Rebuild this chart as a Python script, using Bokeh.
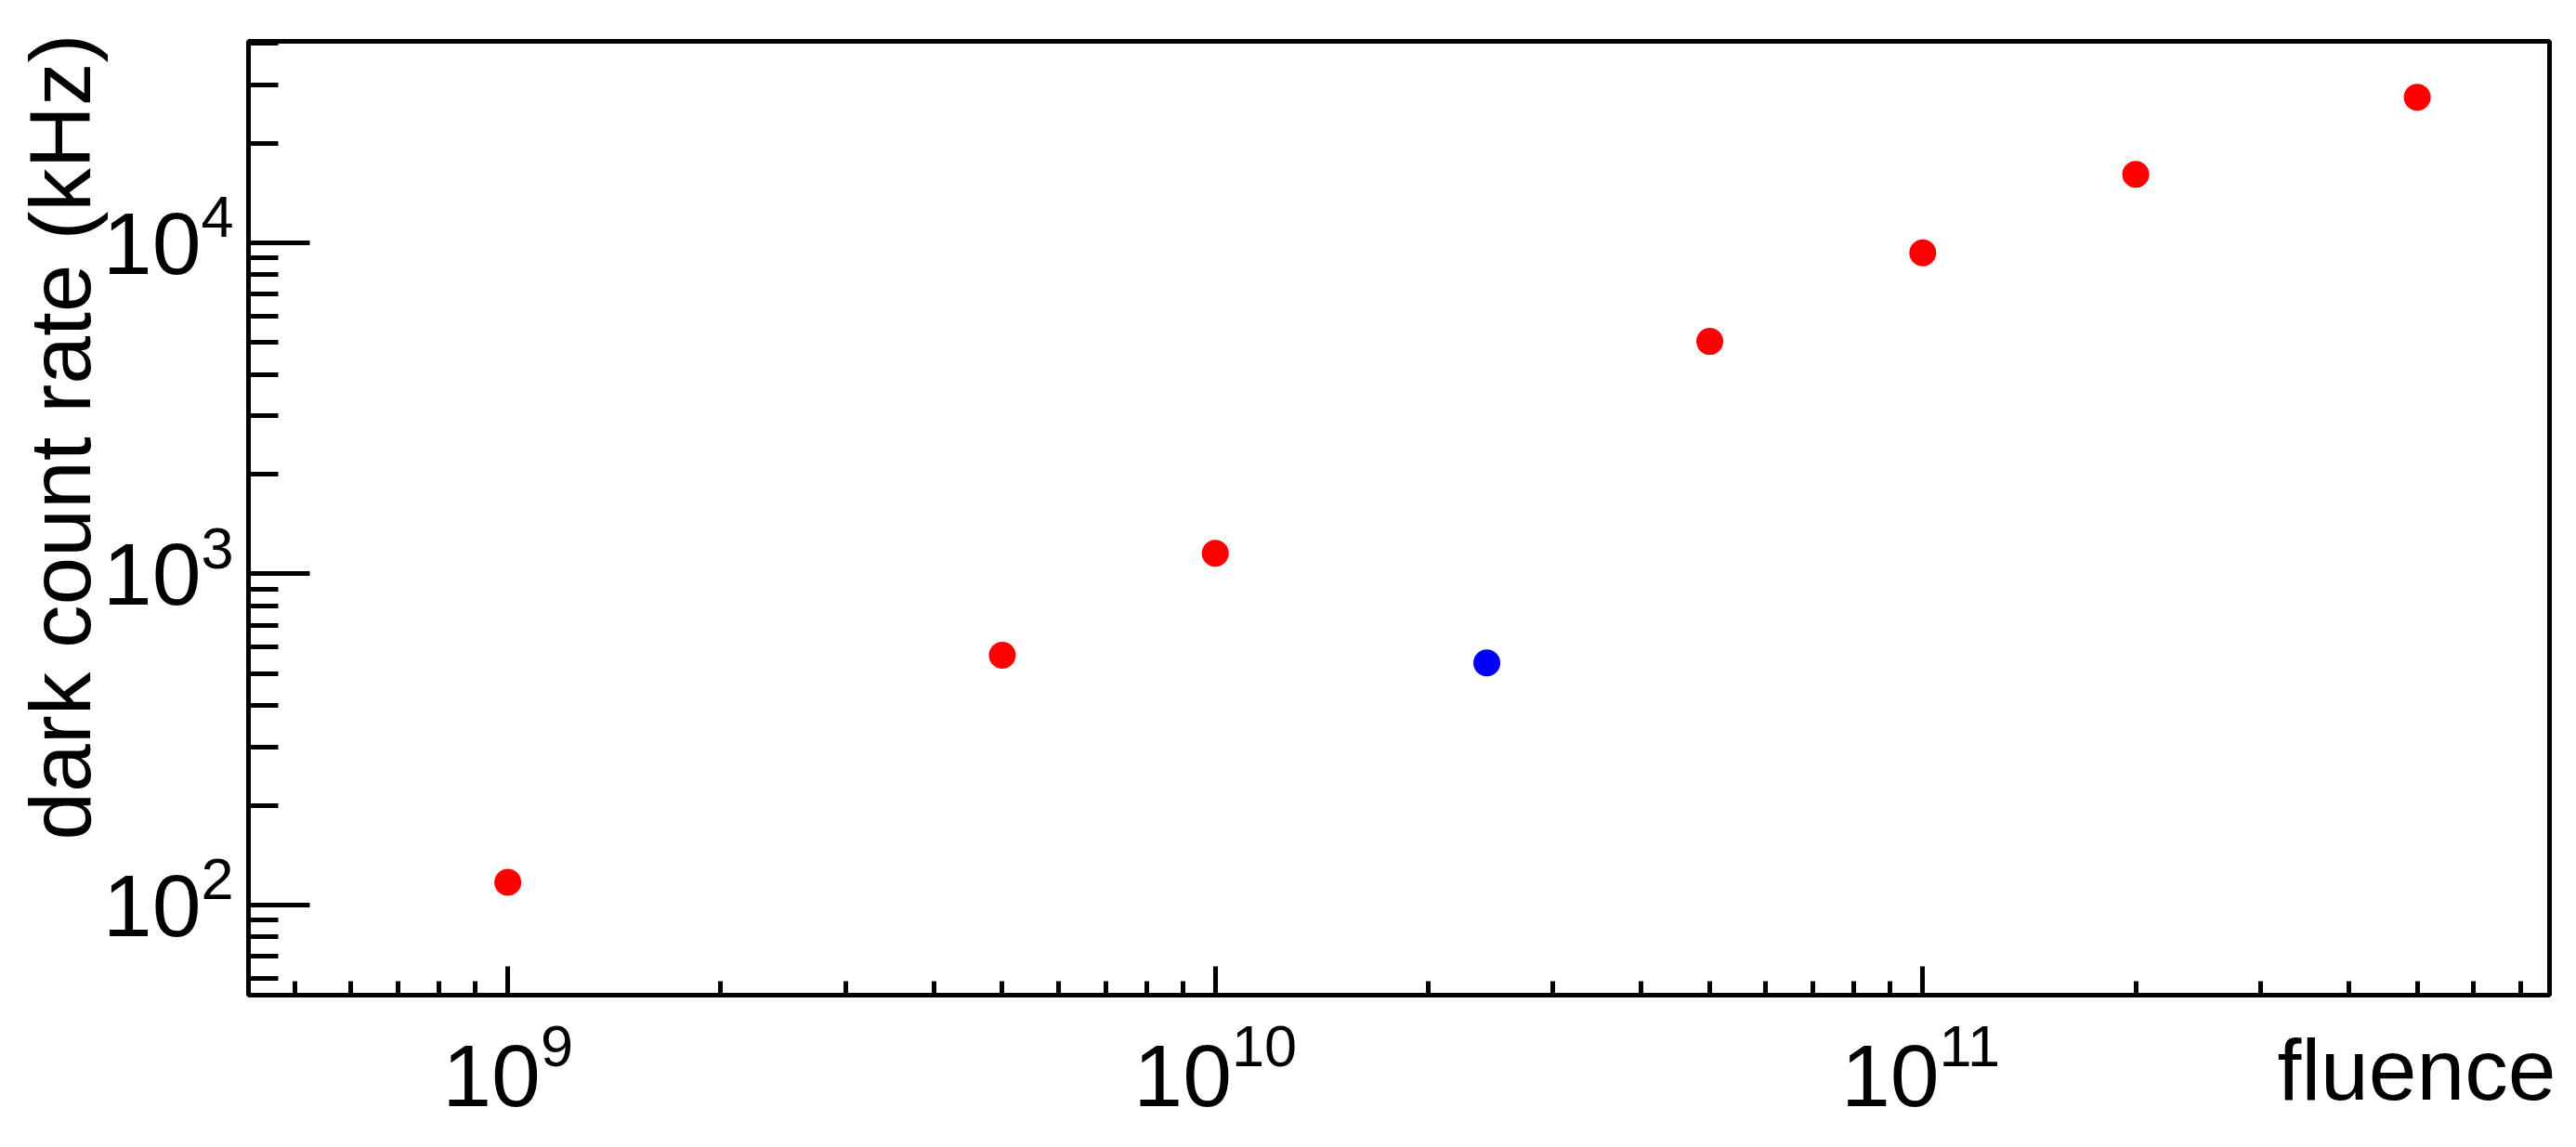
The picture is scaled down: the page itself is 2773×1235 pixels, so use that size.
import math
from bokeh.plotting import figure
from bokeh.models import Range1d, FixedTicker, CustomJSTickFormatter
from bokeh.core.properties import value
from bokeh.embed import file_html
from bokeh.resources import INLINE

# ---- data ----
fluence_red = [1e9, 5e9, 1e10, 5e10, 1e11, 2e11, 5e11]
rate_red = [117, 568, 1153, 5036, 9331, 16106, 27510]
fluence_blue = [2.42e10]
rate_blue = [538]

x_major_ticks = [1e9, 1e10, 1e11]
x_exponents = ["9", "10", "11"]
y_major_ticks = [1e2, 1e3, 1e4]
y_exponents = ["2", "3", "4"]

x_title = "fluence"
y_title = "dark count rate (kHz)"

x_min, x_max = 4.30e8, 7.69e11
y_min, y_max = 53.4, 40600

FONT = value("Liberation Sans")
MAIN_SIZE = 95
EXP_SIZE = 63
TITLE_SIZE = 93
W_DIGIT_MAIN = 0.556 * MAIN_SIZE
W_DIGIT_EXP = 0.556 * EXP_SIZE
BASE_FIX = 0.39  # empirical shift of the rendered baseline, in em
LW = 5

p = figure(
    frame_width=2477, frame_height=1027,
    x_axis_type="log", y_axis_type="log",
    x_range=Range1d(x_min, x_max), y_range=Range1d(y_min, y_max),
    output_backend="svg", toolbar_location=None,
    min_border_left=267, min_border_right=21, min_border_top=44, min_border_bottom=156,
)
p.title.visible = False
p.background_fill_color = "white"
p.border_fill_color = "white"
p.xgrid.visible = False
p.ygrid.visible = False
p.outline_line_color = "black"
p.outline_line_width = LW


def minors(lo, hi):
    out = []
    k = math.floor(math.log10(lo)) - 1
    while 10 ** k <= hi:
        for m in range(2, 10):
            v = m * 10 ** k
            if lo <= v <= hi:
                out.append(v)
        k += 1
    return out


empty = CustomJSTickFormatter(code="return ''")

xa = p.xaxis[0]
xa.ticker = FixedTicker(ticks=x_major_ticks, minor_ticks=minors(x_min, x_max))
xa.formatter = empty
xa.major_label_text_font_size = "0px"
xa.axis_line_color = None
xa.major_tick_in = 31
xa.major_tick_out = 0
xa.minor_tick_in = 15
xa.minor_tick_out = 0
xa.major_tick_line_width = LW
xa.minor_tick_line_width = LW
xa.major_tick_line_color = "black"
xa.minor_tick_line_color = "black"

ya = p.yaxis[0]
ya.ticker = FixedTicker(ticks=y_major_ticks, minor_ticks=minors(y_min, y_max))
ya.formatter = empty
ya.major_label_text_font_size = "0px"
ya.axis_line_color = None
ya.major_tick_in = 66
ya.major_tick_out = 0
ya.minor_tick_in = 32
ya.minor_tick_out = 0
ya.major_tick_line_width = LW
ya.minor_tick_line_width = LW
ya.major_tick_line_color = "black"
ya.minor_tick_line_color = "black"

# data points
p.scatter(fluence_red, rate_red, size=29, fill_color="#ff0000", line_color=None)
p.scatter(fluence_blue, rate_blue, size=29, fill_color="#0000ff", line_color=None)

# ---- x tick labels 10^n (text glyphs at overlay level so they are not clipped) ----
x_off = []
for e in x_exponents:
    total = 2 * W_DIGIT_MAIN + len(e) * W_DIGIT_EXP
    x_off.append(-total / 2 + 2 * W_DIGIT_MAIN)
n = len(x_major_ticks)
p.text(x=x_major_ticks, y=[y_min] * n, text=["10"] * n, x_offset=x_off,
       y_offset=124 - BASE_FIX * MAIN_SIZE,
       text_align="right", text_baseline="alphabetic", text_font=FONT,
       text_font_size=f"{MAIN_SIZE}px", text_color="black", level="overlay")
p.text(x=x_major_ticks, y=[y_min] * n, text=x_exponents, x_offset=x_off,
       y_offset=80 - BASE_FIX * EXP_SIZE,
       text_align="left", text_baseline="alphabetic", text_font=FONT,
       text_font_size=f"{EXP_SIZE}px", text_color="black", level="overlay")

# ---- y tick labels 10^n ----
y_off = [-(16 + len(e) * W_DIGIT_EXP) for e in y_exponents]
m = len(y_major_ticks)
p.text(x=[x_min] * m, y=y_major_ticks, text=["10"] * m, x_offset=y_off,
       y_offset=38 - BASE_FIX * MAIN_SIZE,
       text_align="right", text_baseline="alphabetic", text_font=FONT,
       text_font_size=f"{MAIN_SIZE}px", text_color="black", level="overlay")
p.text(x=[x_min] * m, y=y_major_ticks, text=y_exponents, x_offset=y_off,
       y_offset=-3 - BASE_FIX * EXP_SIZE,
       text_align="left", text_baseline="alphabetic", text_font=FONT,
       text_font_size=f"{EXP_SIZE}px", text_color="black", level="overlay")

# ---- axis titles (ROOT style: aligned to the end of each axis) ----
p.text(x=[x_max], y=[y_min], text=[x_title], x_offset=7,
       y_offset=117 - BASE_FIX * TITLE_SIZE,
       text_align="right", text_baseline="alphabetic", text_font=FONT,
       text_font_size=f"{TITLE_SIZE}px", text_color="black", level="overlay")
p.text(x=[x_min], y=[y_max], text=[y_title], angle=math.pi / 2,
       x_offset=-166 - BASE_FIX * TITLE_SIZE, y_offset=-8,
       text_align="right", text_baseline="alphabetic", text_font=FONT,
       text_font_size=f"{TITLE_SIZE}px", text_color="black", level="overlay")

open("out.html", "w").write(file_html(p, INLINE))
